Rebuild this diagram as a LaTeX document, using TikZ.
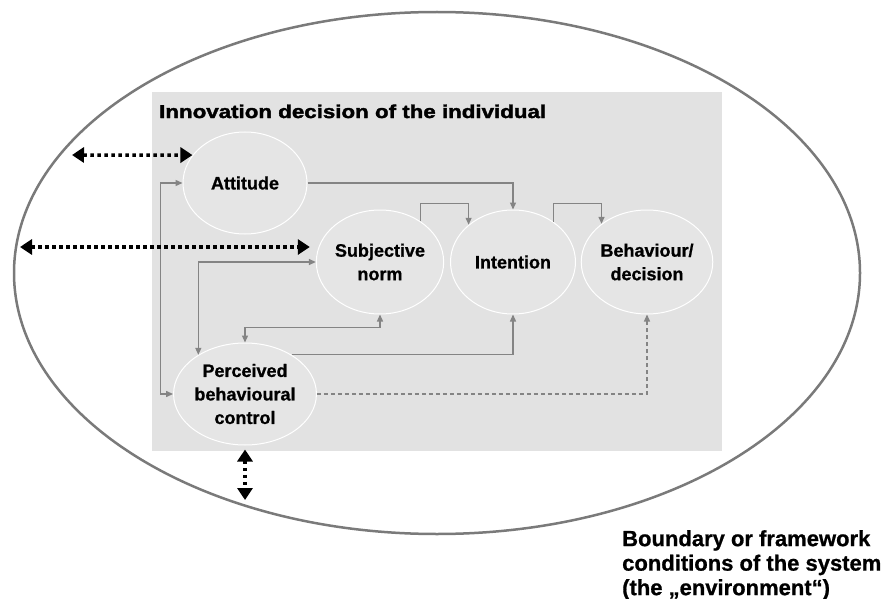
\documentclass[tikz,border=0pt]{standalone}
\usepackage{fontspec}
\setmainfont{Liberation Sans}[BoldFeatures={FakeBold=0.8}]
\newfontfamily\titlefont{Liberation Sans}[FakeStretch=1.2,BoldFeatures={FakeBold=2}]
\usetikzlibrary{arrows.meta,shapes.geometric}
\definecolor{boxgray}{HTML}{E2E2E2}
\definecolor{ellgray}{HTML}{E5E5E5}
\definecolor{linegray}{HTML}{848484}
\definecolor{rimgray}{HTML}{7A7A7A}
\tikzset{
  construct/.style={ellipse, draw=white, line width=1pt, fill=ellgray,
    minimum width=125pt, minimum height=104pt, inner sep=0pt, align=center,
    font=\bfseries\fontsize{18}{23.5}\selectfont},
  link/.style={draw=linegray, line width=1.3pt, -{Triangle[length=7pt,width=6pt]}},
  twolink/.style={draw=linegray, line width=1.3pt,
    {Triangle[length=7pt,width=6pt]}-{Triangle[length=7pt,width=6pt]}},
  dashlink/.style={link, dash pattern=on 4pt off 3pt},
  envarrow/.style={black, line width=3.5pt, dash pattern=on 3.5pt off 3.5pt,
    {Triangle[length=12pt,width=15pt]}-{Triangle[length=12pt,width=15pt]}},
}
\begin{document}
\begin{tikzpicture}[x=1pt,y=-1pt]
\useasboundingbox (0,0) rectangle (891,599);
% environment boundary
\draw[rimgray, line width=2.5pt] (437,273) ellipse [x radius=423, y radius=261];
% individual box
\fill[boxgray] (152,92) rectangle (722,451);
\node[anchor=base west, inner sep=0pt, font=\titlefont\bfseries\fontsize{18.6}{22}\selectfont] (title) at (159,118) {Innovation decision of the individual};
% constructs
\node[construct, minimum width=124pt, minimum height=102pt] (att) at (245,183) {Attitude};
\node[construct] (sn) at (380,262) {Subjective\\norm};
\node[construct] (int) at (513,262) {Intention};
\node[construct] (beh) at (647,262) {Behaviour/\\decision};
\node[construct, minimum width=124pt, minimum height=102pt] (pbc) at (245,394) {Perceived\\behavioural\\control};
% connectors
\draw[link] (att.east) -| (int.north);
\draw[link] (sn.45) -- ++(0,-18) -| (int.140);
\draw[link] (int.45) -- ++(0,-18) -| (beh.140);
\draw[twolink] (att.west) -- ++(-22,0) |- (pbc.west);
\draw[twolink] (sn.west) -| (pbc.140);
\draw[twolink] (sn.south) -- ++(0,13) -| (pbc.north);
\draw[link] (pbc.40) -| (int.south);
\draw[dashlink] (pbc.east) -| (beh.south);
% environment influences
\coordinate (envA) at (72,155);
\coordinate (envB) at (20,247);
\coordinate (envC) at (245,500);
\draw[envarrow] (envA) -- (att.152);
\draw[envarrow, shorten >=6pt] (envB) -- (envB -| sn.west);
\draw[envarrow, shorten <=4pt] (pbc.south) -- (envC);
% environment label
\node[anchor=north west, align=left, inner sep=0pt,
  font=\bfseries\fontsize{22}{24.5}\selectfont] (envlabel) at (622,530)
  {Boundary or framework\\conditions of the system\\(the „environment“)};
\end{tikzpicture}
\end{document}
